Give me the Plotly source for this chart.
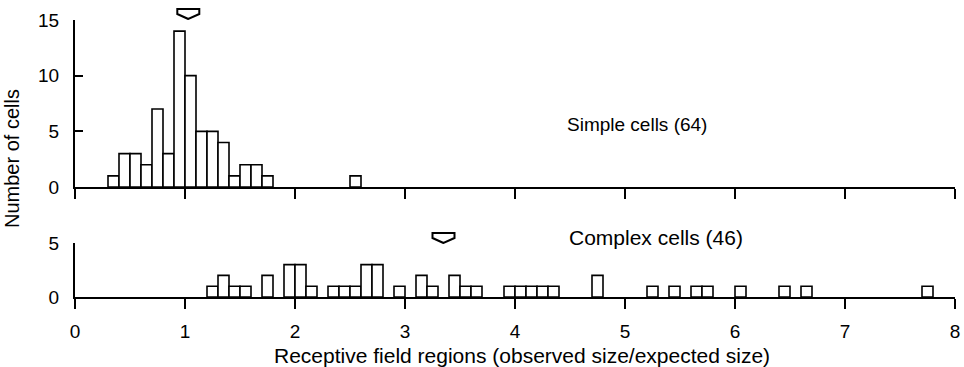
import plotly.graph_objects as go

# Histogram bins (left edges, bin width 0.1) and cell counts
simple_bins = [0.3, 0.4, 0.5, 0.6, 0.7, 0.8, 0.9, 1.0, 1.1, 1.2, 1.3, 1.4, 1.5, 1.6, 1.7, 2.5]
simple_counts = [1, 3, 3, 2, 7, 3, 14, 10, 5, 5, 4, 1, 2, 2, 1, 1]

complex_bins = [1.2, 1.3, 1.4, 1.5, 1.7, 1.9, 2.0, 2.1, 2.3, 2.4, 2.5, 2.6, 2.7, 2.9,
                3.1, 3.2, 3.4, 3.5, 3.6, 3.9, 4.0, 4.1, 4.2, 4.3, 4.7, 5.2, 5.4,
                5.6, 5.7, 6.0, 6.4, 6.6, 7.7]
complex_counts = [1, 2, 1, 1, 2, 3, 3, 1, 1, 1, 1, 3, 3, 1,
                  2, 1, 2, 1, 1, 1, 1, 1, 1, 1, 2, 1, 1,
                  1, 1, 1, 1, 1, 1]

bin_width = 0.1
mean_values = [1.03, 3.35]          # arrows marking the mean of each population
panel_labels = ["Simple cells (64)", "Complex cells (46)"]
x_ticks = [0, 1, 2, 3, 4, 5, 6, 7, 8]
top_y_ticks = [0, 5, 10, 15]
bottom_y_ticks = [0, 5]

FONT = "Liberation Sans"
W, H = 964, 367
X0_PX, X8_PX = 75, 955
TOP_Y0_PX, TOP_Y15_PX = 187, 20
BOT_Y0_PX, BOT_Y5_PX = 297, 243


def px_x(p):
    return p / W


def px_y(p):
    return 1 - p / H


bar_style = dict(marker=dict(color="white", line=dict(color="black", width=1.6)),
                 width=bin_width, offset=0, showlegend=False, hoverinfo="x+y")

fig = go.Figure()
fig.add_trace(go.Bar(x=simple_bins, y=simple_counts, xaxis="x", yaxis="y", **bar_style))
fig.add_trace(go.Bar(x=complex_bins, y=complex_counts, xaxis="x2", yaxis="y2", **bar_style))

axis_common = dict(showline=True, linecolor="black", linewidth=2, showgrid=False,
                   zeroline=False, tickcolor="black", tickwidth=1.5, automargin=False,
                   tickfont=dict(family=FONT, size=19, color="black"))

fig.update_layout(
    width=W, height=H,
    margin=dict(l=0, r=0, t=0, b=0, autoexpand=False),
    paper_bgcolor="white", plot_bgcolor="white",
    barmode="overlay",
    xaxis=dict(domain=[px_x(X0_PX), px_x(X8_PX)], range=[0, 8], anchor="y",
               tickvals=x_ticks, ticks="outside", ticklen=10, showticklabels=False,
               **axis_common),
    yaxis=dict(domain=[px_y(TOP_Y0_PX), px_y(TOP_Y15_PX)], range=[0, 15], anchor="x",
               tickvals=top_y_ticks, ticks="inside", ticklen=8, ticklabelstandoff=10,
               **axis_common),
    xaxis2=dict(domain=[px_x(X0_PX), px_x(X8_PX)], range=[0, 8], anchor="y2",
                tickvals=x_ticks, ticks="outside", ticklen=10, ticklabelstandoff=6,
                **axis_common),
    yaxis2=dict(domain=[px_y(BOT_Y0_PX), px_y(BOT_Y5_PX)], range=[0, 5], anchor="x2",
                tickvals=bottom_y_ticks, ticks="inside", ticklen=8, ticklabelstandoff=10,
                **axis_common),
)

# x-axis title
fig.add_annotation(text="Receptive field regions (observed size/expected size)",
                   xref="paper", yref="paper", x=px_x(522), y=px_y(355),
                   xanchor="center", yanchor="middle", showarrow=False,
                   font=dict(family=FONT, size=21, color="black"))

# Shared y-axis title
fig.add_annotation(text="Number of cells", textangle=-90, xref="paper", yref="paper",
                   x=px_x(12), y=px_y(159), xanchor="center", yanchor="middle",
                   showarrow=False, font=dict(family=FONT, size=20, color="black"))

# Panel labels
fig.add_annotation(text=panel_labels[0], xref="x", yref="paper", x=4.45, y=px_y(124),
                   xanchor="left", yanchor="middle", showarrow=False,
                   font=dict(family=FONT, size=19, color="black"))
fig.add_annotation(text=panel_labels[1], xref="x2", yref="paper", x=4.47, y=px_y(237),
                   xanchor="left", yanchor="middle", showarrow=False,
                   font=dict(family=FONT, size=21, color="black"))

# Open pentagon arrows pointing down at the mean of each distribution
arrow_path = "M0,0 L-11,5 L-11,10 L11,10 L11,5 Z"
for xref, mean, tip_px in [("x", mean_values[0], 19), ("x2", mean_values[1], 243)]:
    fig.add_shape(type="path", xref=xref, yref="paper",
                  xsizemode="pixel", ysizemode="pixel",
                  xanchor=mean, yanchor=px_y(tip_px), path=arrow_path,
                  fillcolor="white", line=dict(color="black", width=2))

fig.write_html("out.html")
